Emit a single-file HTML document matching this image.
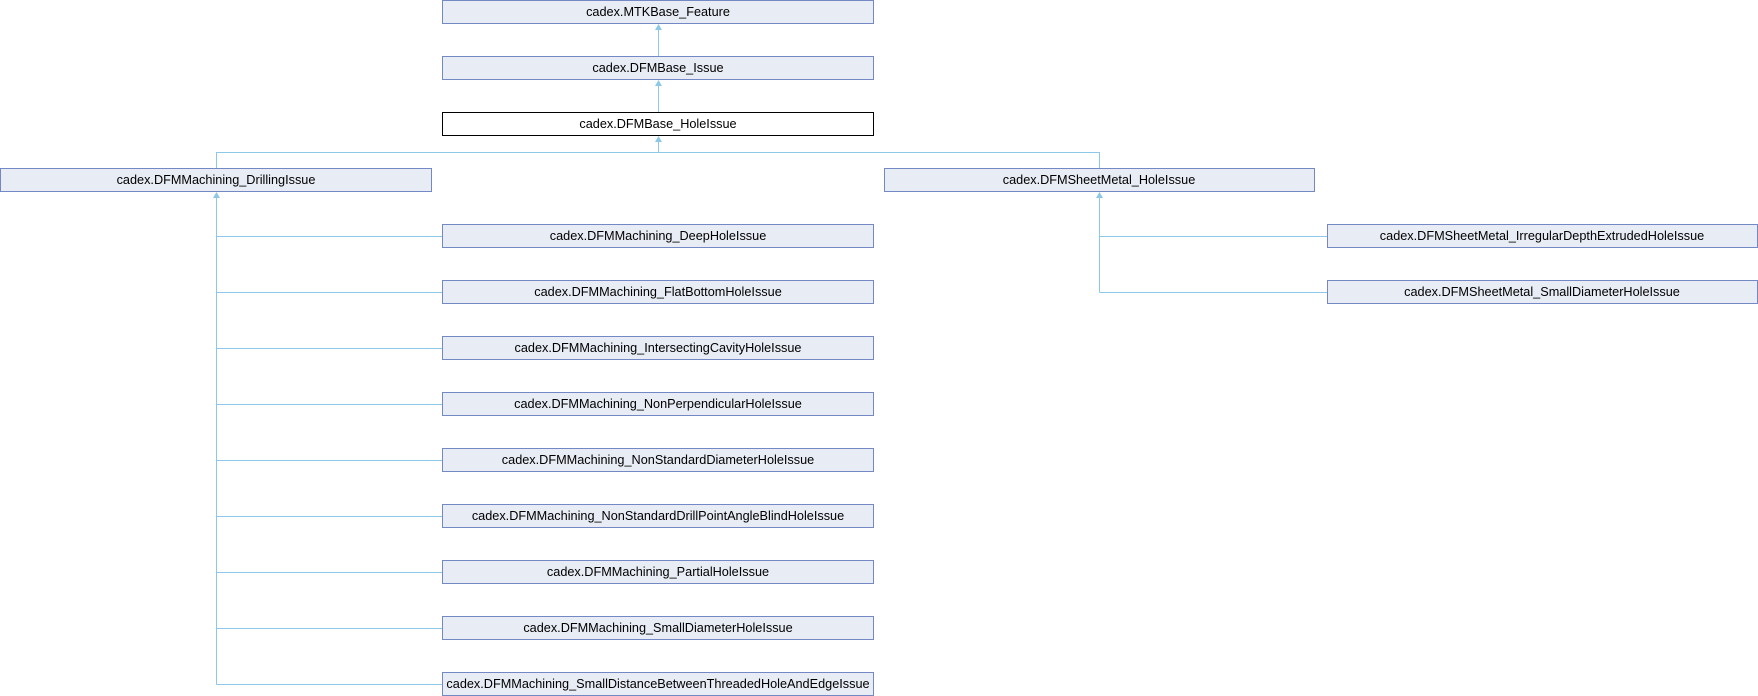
<!DOCTYPE html>
<html><head><meta charset="utf-8"><style>
html,body{margin:0;padding:0;background:#fff;}
svg{display:block;}
text{font-family:"Liberation Sans",Arial,sans-serif;font-size:12.7px;fill:#000;}
.b{fill:#e8ecf5;stroke:#7488c6;stroke-width:1;}
.w{fill:#fff;stroke:#000;stroke-width:1;}
.l{stroke:#8ec8e8;stroke-width:1;fill:none;}
.a{fill:#8ec8e8;}
</style></head><body>
<svg width="1758" height="696" xmlns="http://www.w3.org/2000/svg">
<path class="l" d="M658.5 56V25 M658.5 112V81 M216.5 168V152.5H1099.5V168 M658.5 152.5V137"/>
<polygon class="a" points="658.5,24 655,30 662,30"/>
<polygon class="a" points="658.5,80 655,86 662,86"/>
<polygon class="a" points="658.5,136 655,142 662,142"/>
<polygon class="a" points="216.5,192 213,198 220,198"/>
<polygon class="a" points="1099.5,192 1096,198 1103,198"/>
<path class="l" d="M216.5 193V684.5 M1099.5 193V292.5"/>
<g class="l">
<path d="M216.5 236.5H442 M216.5 292.5H442 M216.5 348.5H442 M216.5 404.5H442 M216.5 460.5H442 M216.5 516.5H442 M216.5 572.5H442 M216.5 628.5H442 M216.5 684.5H442"/>
<path d="M1099.5 236.5H1327 M1099.5 292.5H1327"/>
</g>
<rect class="b" x="442.5" y="0.5" width="431" height="23"/>
<text x="658" y="16" text-anchor="middle">cadex.MTKBase_Feature</text>
<rect class="b" x="442.5" y="56.5" width="431" height="23"/>
<text x="658" y="72" text-anchor="middle">cadex.DFMBase_Issue</text>
<rect class="w" x="442.5" y="112.5" width="431" height="23"/>
<text x="658" y="128" text-anchor="middle">cadex.DFMBase_HoleIssue</text>
<rect class="b" x="0.5" y="168.5" width="431" height="23"/>
<text x="216" y="184" text-anchor="middle">cadex.DFMMachining_DrillingIssue</text>
<rect class="b" x="884.5" y="168.5" width="430" height="23"/>
<text x="1099" y="184" text-anchor="middle">cadex.DFMSheetMetal_HoleIssue</text>
<rect class="b" x="1327.5" y="224.5" width="430" height="23"/>
<text x="1542" y="240" text-anchor="middle">cadex.DFMSheetMetal_IrregularDepthExtrudedHoleIssue</text>
<rect class="b" x="1327.5" y="280.5" width="430" height="23"/>
<text x="1542" y="296" text-anchor="middle">cadex.DFMSheetMetal_SmallDiameterHoleIssue</text>
<rect class="b" x="442.5" y="224.5" width="431" height="23"/>
<text x="658" y="240" text-anchor="middle">cadex.DFMMachining_DeepHoleIssue</text>
<rect class="b" x="442.5" y="280.5" width="431" height="23"/>
<text x="658" y="296" text-anchor="middle">cadex.DFMMachining_FlatBottomHoleIssue</text>
<rect class="b" x="442.5" y="336.5" width="431" height="23"/>
<text x="658" y="352" text-anchor="middle">cadex.DFMMachining_IntersectingCavityHoleIssue</text>
<rect class="b" x="442.5" y="392.5" width="431" height="23"/>
<text x="658" y="408" text-anchor="middle">cadex.DFMMachining_NonPerpendicularHoleIssue</text>
<rect class="b" x="442.5" y="448.5" width="431" height="23"/>
<text x="658" y="464" text-anchor="middle">cadex.DFMMachining_NonStandardDiameterHoleIssue</text>
<rect class="b" x="442.5" y="504.5" width="431" height="23"/>
<text x="658" y="520" text-anchor="middle">cadex.DFMMachining_NonStandardDrillPointAngleBlindHoleIssue</text>
<rect class="b" x="442.5" y="560.5" width="431" height="23"/>
<text x="658" y="576" text-anchor="middle">cadex.DFMMachining_PartialHoleIssue</text>
<rect class="b" x="442.5" y="616.5" width="431" height="23"/>
<text x="658" y="632" text-anchor="middle">cadex.DFMMachining_SmallDiameterHoleIssue</text>
<rect class="b" x="442.5" y="672.5" width="431" height="23"/>
<text x="658" y="688" text-anchor="middle">cadex.DFMMachining_SmallDistanceBetweenThreadedHoleAndEdgeIssue</text>
</svg>
</body></html>
